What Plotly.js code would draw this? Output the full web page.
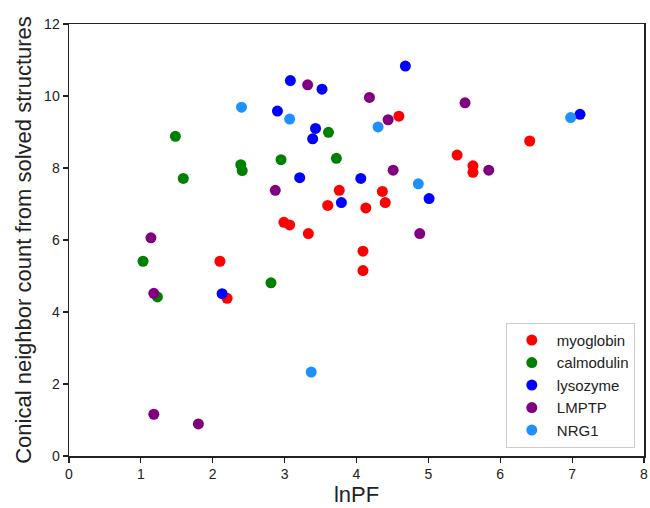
<!DOCTYPE html>
<html>
<head>
<meta charset="utf-8">
<script src="https://cdn.plot.ly/plotly-3.0.1.min.js"></script>
<style>html,body{margin:0;padding:0;background:#fff;}#chart{width:650px;height:508px;}</style>
</head>
<body>
<div id="chart"></div>
<script>
const seriesNames = ["myoglobin", "calmodulin", "lysozyme", "LMPTP", "NRG1"];
const seriesColors = ["#ff0000", "#008000", "#0000ff", "#800080", "#1e90ff"];

const myoglobinX = [2.10, 2.20, 2.99, 3.07, 3.33, 3.60, 3.76, 4.09, 4.09, 4.13, 4.36, 4.40, 4.59, 5.40, 5.62, 5.62, 6.41];
const myoglobinY = [5.41, 4.38, 6.49, 6.42, 6.18, 6.96, 7.38, 5.69, 5.15, 6.89, 7.35, 7.04, 9.44, 8.36, 8.06, 7.88, 8.75];

const calmodulinX = [1.03, 1.23, 1.48, 1.59, 2.39, 2.41, 2.81, 2.95, 3.61, 3.72];
const calmodulinY = [5.41, 4.42, 8.88, 7.71, 8.09, 7.93, 4.81, 8.23, 8.99, 8.27];

const lysozymeX = [2.13, 2.90, 3.08, 3.21, 3.39, 3.43, 3.52, 3.79, 4.06, 4.68, 5.01, 7.11];
const lysozymeY = [4.51, 9.58, 10.43, 7.73, 8.81, 9.10, 10.19, 7.04, 7.71, 10.83, 7.15, 9.49];

const lmptpX = [1.14, 1.18, 1.18, 1.80, 2.87, 3.32, 4.18, 4.44, 4.51, 4.88, 5.51, 5.84];
const lmptpY = [6.06, 4.52, 1.16, 0.89, 7.38, 10.31, 9.96, 9.34, 7.94, 6.18, 9.81, 7.94];

const nrg1X = [2.40, 3.07, 3.37, 4.30, 4.86, 6.98];
const nrg1Y = [9.69, 9.36, 2.33, 9.14, 7.56, 9.40];

const xs = [myoglobinX, calmodulinX, lysozymeX, lmptpX, nrg1X];
const ys = [myoglobinY, calmodulinY, lysozymeY, lmptpY, nrg1Y];

const xTicks = [0, 1, 2, 3, 4, 5, 6, 7, 8];
const yTicks = [0, 2, 4, 6, 8, 10, 12];

const traces = seriesNames.map((name, i) => ({
  type: "scatter",
  mode: "markers",
  name: name,
  x: xs[i],
  y: ys[i],
  marker: {color: seriesColors[i], size: 11, line: {width: 0}}
}));

const font = "Arial, 'Liberation Sans', sans-serif";

const layout = {
  width: 650,
  height: 508,
  margin: {l: 69, r: 6, t: 24, b: 52},
  paper_bgcolor: "#ffffff",
  plot_bgcolor: "#ffffff",
  font: {family: font, size: 14, color: "#222"},
  showlegend: true,
  legend: {
    x: 0.984, y: 0.019, xanchor: "right", yanchor: "bottom",
    bordercolor: "#cccccc", borderwidth: 1, bgcolor: "rgba(255,255,255,0.8)",
    font: {family: font, size: 15, color: "#222"},
    itemwidth: 40
  },
  xaxis: {
    range: [0, 8], tickvals: xTicks, ticktext: xTicks.map(String),
    showgrid: false, zeroline: false,
    showline: true, linecolor: "#222", linewidth: 1.5, mirror: true,
    ticks: "outside", ticklen: 5, tickwidth: 1.2, tickcolor: "#222",
    tickfont: {family: font, size: 14, color: "#222"},
    title: {text: "lnPF", font: {family: font, size: 22, color: "#222"}, standoff: 4}
  },
  yaxis: {
    range: [0, 12], tickvals: yTicks, ticktext: yTicks.map(String),
    showgrid: false, zeroline: false,
    showline: true, linecolor: "#222", linewidth: 1.5, mirror: true,
    ticks: "outside", ticklen: 5, tickwidth: 1.2, tickcolor: "#222",
    tickfont: {family: font, size: 14, color: "#222"},
    title: {text: "Conical neighbor count from solved structures", font: {family: font, size: 22, color: "#222"}, standoff: 6}
  }
};

Plotly.newPlot("chart", traces, layout, {displayModeBar: false, staticPlot: true});
</script>
</body>
</html>
